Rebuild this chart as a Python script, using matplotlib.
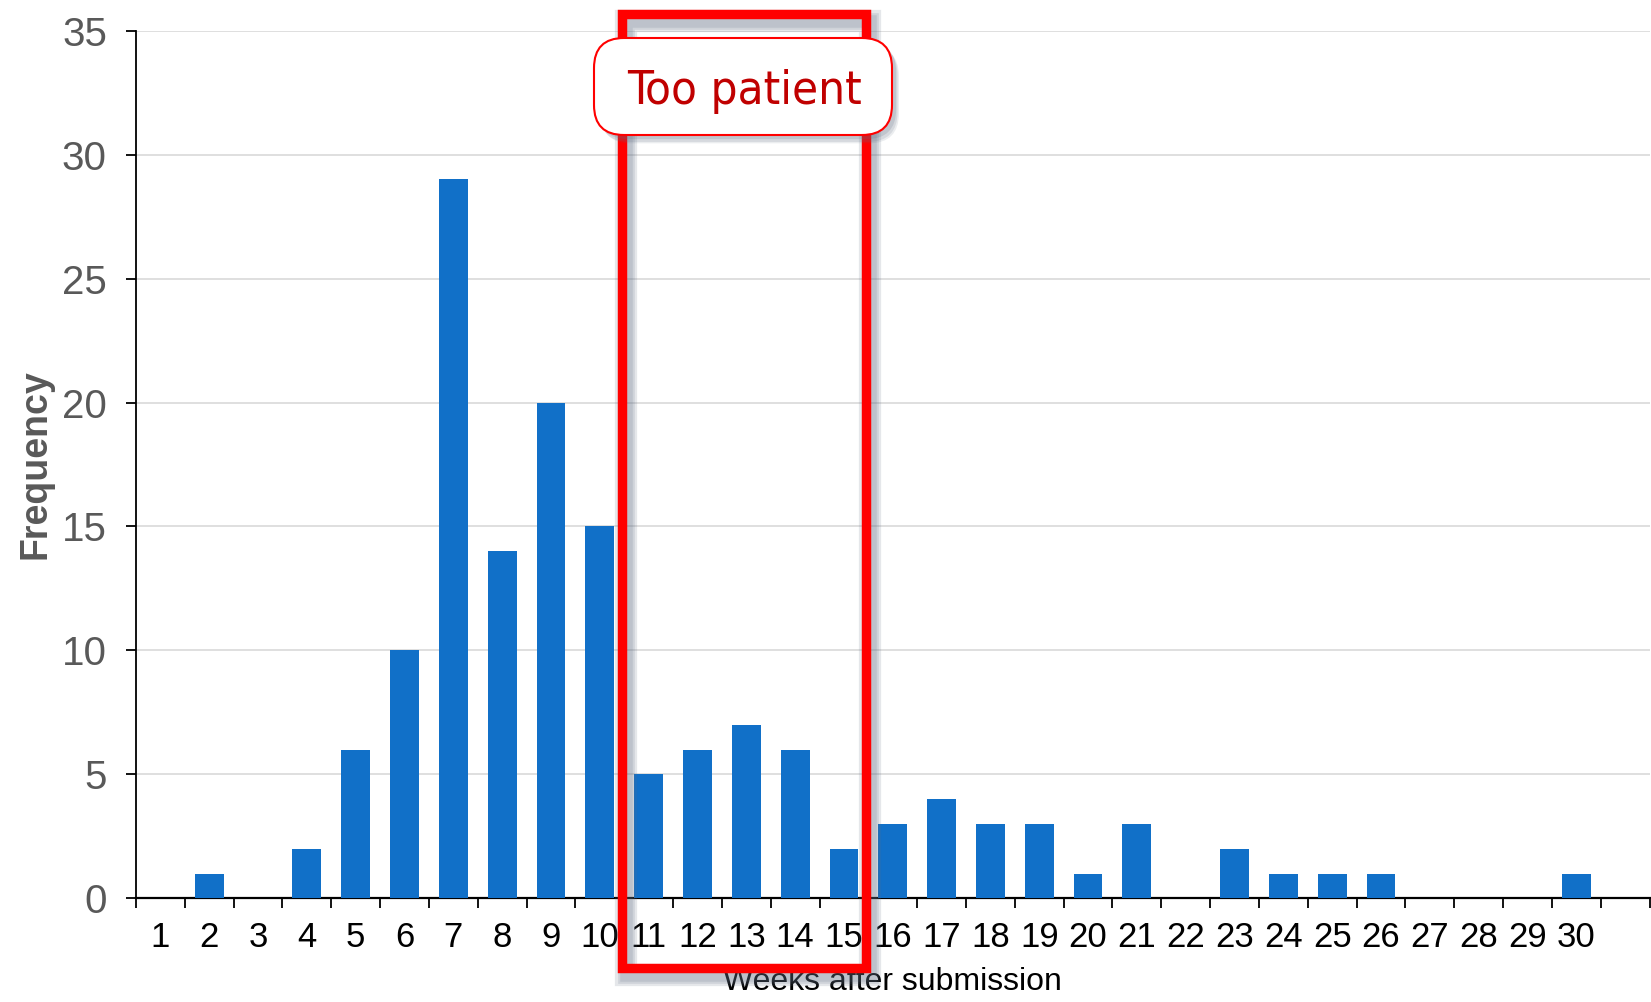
import matplotlib.pyplot as plt
from matplotlib.patches import Rectangle, FancyBboxPatch
import matplotlib.patheffects as pe

plt.rcParams['font.family'] = ['Liberation Sans', 'DejaVu Sans']

# weekly counts of decisions after submission
weeks = list(range(1, 31))
freq = [0, 1, 0, 2, 6, 10, 29, 14, 20, 15,
        5, 6, 7, 6, 2, 3, 4, 3, 3, 1,
        3, 0, 2, 1, 1, 1, 0, 0, 0, 1]
y_ticks = [0, 5, 10, 15, 20, 25, 30, 35]
callout_text = 'Too patient'

W, H = 1651, 1002
bar_color = '#1170C8'
red = '#FF0000'


def px(x, y):
    """pixel position (from top-left) -> inches for dpi_scale_trans"""
    return x / 100, (H - y) / 100


fig = plt.figure(figsize=(W / 100, H / 100), dpi=100)
ax = fig.add_axes([136 / W, 1 - 898.3 / H, (1649.5 - 136) / W, (898.3 - 30.7) / H])

ax.bar(weeks, freq, width=0.59, color=bar_color, zorder=3)

ax.set_xlim(0.5, 31.5)
ax.set_ylim(0, 35)
ax.set_yticks(y_ticks)

# category boundaries get the tick marks, centers get the labels
ax.set_xticks([i + 0.5 for i in range(0, 32)])
ax.set_xticklabels([])
ax.set_xticks(weeks, labels=[str(w) for w in weeks], minor=True)
ax.tick_params(axis='x', which='major', length=7, width=1.3, direction='out')
ax.tick_params(axis='x', which='minor', length=0, pad=16, labelsize=25,
               labelcolor='black')
ax.tick_params(axis='y', length=7, width=1.3, pad=14, labelsize=29,
               labelcolor='#595959')

ax.grid(axis='y', color='#D9D9D9', lw=1.2, zorder=0)
ax.set_axisbelow(True)
for s in ['top', 'right']:
    ax.spines[s].set_visible(False)
ax.spines['left'].set_linewidth(1.3)
ax.spines['bottom'].set_linewidth(1.6)

ax.set_xlabel('Weeks after submission', fontsize=23, va='center')
ax.xaxis.set_label_coords(0.5, (898.3 - 982) / 867.6)
ax.set_ylabel('Frequency', fontsize=27, fontweight='bold', color='#595959',
              va='center')
ax.yaxis.set_label_coords((35 - 136) / 1513.5, 0.5)

# soft drop shadow built from stacked offset strokes
line_shadow = [pe.SimpleLineShadow(offset=(3, -5), shadow_color='#5f6d82',
                                   alpha=0.16, linewidth=lw)
               for lw in (16, 12, 9)]
box_shadow = [pe.SimplePatchShadow(offset=o, shadow_rgbFace='#5f6d82', alpha=a)
              for o, a in (((5, -6), 0.12), ((4, -5), 0.15), ((3, -3), 0.18))]

rect = Rectangle(px(621.5, 968), (865.5 - 621.5) / 100, (968 - 14) / 100,
                 transform=fig.dpi_scale_trans, fill=False, ec=red, lw=6.8,
                 joinstyle='miter', zorder=5,
                 path_effects=line_shadow + [pe.Normal()])
fig.add_artist(rect)

box = FancyBboxPatch(px(594, 135), 298 / 100, 97 / 100,
                     boxstyle='round,pad=0,rounding_size=0.3',
                     transform=fig.dpi_scale_trans, fc='white', ec=red, lw=1.5,
                     zorder=6, path_effects=box_shadow + [pe.Normal()])
fig.add_artist(box)

fig.text(744 / W, 1 - 91 / H, callout_text, ha='center', va='center',
         color='#C00000', fontsize=34, family='DejaVu Sans',
         stretch='condensed', zorder=7)

fig.savefig('out.png', dpi=100)
